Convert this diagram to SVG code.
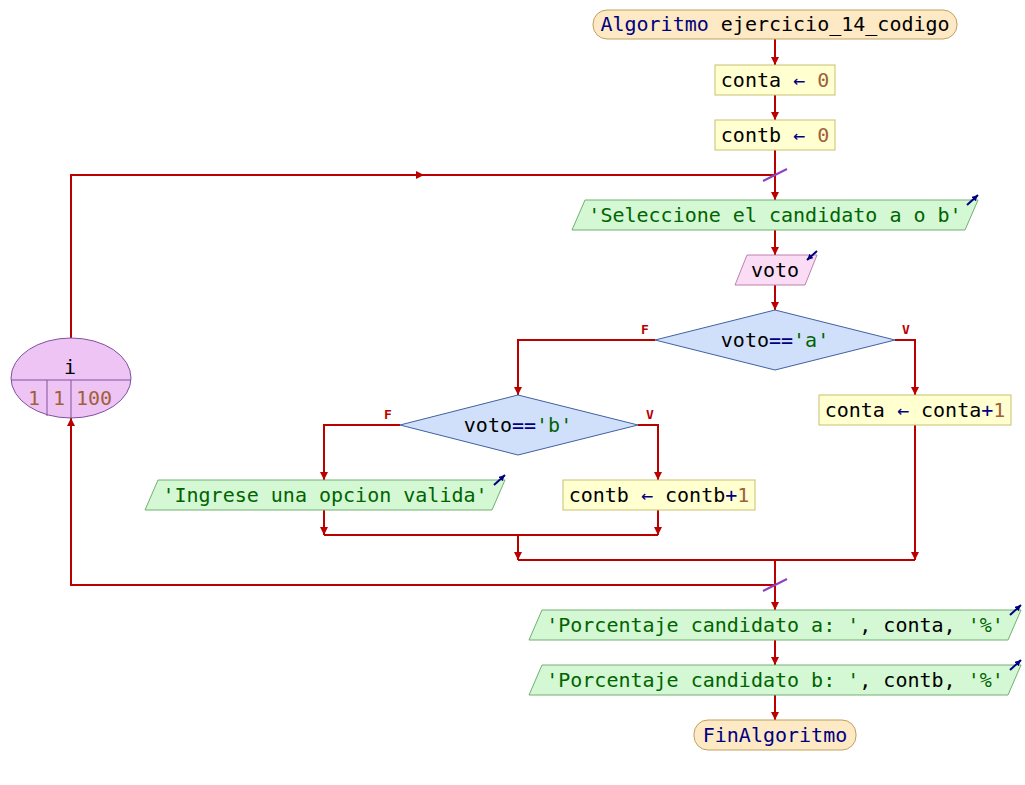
<svg xmlns="http://www.w3.org/2000/svg" width="1025" height="785" viewBox="0 0 1025 785">
<defs>
<marker id="ah" markerWidth="10" markerHeight="10" refX="8" refY="4" orient="auto" markerUnits="userSpaceOnUse"><path d="M0,0 L8,4 L0,8 z" fill="#bb0000"/></marker>
<marker id="io" markerWidth="8" markerHeight="8" refX="6" refY="3" orient="auto" markerUnits="userSpaceOnUse"><path d="M0,0 L6,3 L0,6 z" fill="#000080"/></marker>
</defs>
<style>
text{font-family:"DejaVu Sans Mono","Liberation Mono",monospace;font-size:20px;text-anchor:middle;fill:#000}
.k{fill:#000080}.n{fill:#a0603a}.s{fill:#006400}
.lbl{font-family:"DejaVu Sans Mono",monospace;font-size:13px;font-weight:bold;fill:#bb0000}
.term{fill:#fde9c4;stroke:#c0a060;stroke-width:1}
.proc{fill:#ffffd0;stroke:#c8c070;stroke-width:1}
.out{fill:#d4f7d4;stroke:#70b070;stroke-width:1}
.inp{fill:#fadcf4;stroke:#c080b0;stroke-width:1}
.dec{fill:#d0e0fa;stroke:#4060a0;stroke-width:1}
.loop{fill:#eec4f4;stroke:#8050a0;stroke-width:1}
.c{fill:none;stroke:#bb0000;stroke-width:2}
.sl{stroke:#9040c0;stroke-width:2}
.ic{stroke:#000080;stroke-width:2;fill:none}
</style>
<g id="connectors">
<path class="c" d="M775,39 V65" marker-end="url(#ah)"/>
<path class="c" d="M775,95 V120" marker-end="url(#ah)"/>
<path class="c" d="M775,150 V200" marker-end="url(#ah)"/>
<path class="c" d="M775,230 V255" marker-end="url(#ah)"/>
<path class="c" d="M775,285 V310" marker-end="url(#ah)"/>
<path class="c" d="M655,340 H518 V395" marker-end="url(#ah)"/>
<path class="c" d="M895,340 H915 V395" marker-end="url(#ah)"/>
<path class="c" d="M400,425 H324 V480" marker-end="url(#ah)"/>
<path class="c" d="M638,425 H658 V480" marker-end="url(#ah)"/>
<path class="c" d="M324,510 V535" marker-end="url(#ah)"/>
<path class="c" d="M658,510 V535" marker-end="url(#ah)"/>
<path class="c" d="M324,535 H658"/>
<path class="c" d="M518,535 V560" marker-end="url(#ah)"/>
<path class="c" d="M915,425 V560" marker-end="url(#ah)"/>
<path class="c" d="M518,560 H915"/>
<path class="c" d="M775,560 V610" marker-end="url(#ah)"/>
<path class="c" d="M775,585 H71 V418" marker-end="url(#ah)"/>
<path class="c" d="M71,338 V175 H424" marker-end="url(#ah)"/>
<path class="c" d="M420,175 H775"/>
<path class="c" d="M775,640 V665" marker-end="url(#ah)"/>
<path class="c" d="M775,695 V720" marker-end="url(#ah)"/>
<line class="sl" x1="763" y1="181" x2="787" y2="169"/>
<line class="sl" x1="763" y1="591" x2="787" y2="579"/>
</g>
<g id="start">
<rect class="term" x="593" y="10" width="364" height="29" rx="14"/>
<text x="775" y="31"><tspan class="k">Algoritmo</tspan> ejercicio_14_codigo</text>
</g>
<g id="conta0">
<rect class="proc" x="715" y="65" width="120" height="30"/>
<text x="775" y="87">conta <tspan class="k">←</tspan> <tspan class="n">0</tspan></text>
</g>
<g id="contb0">
<rect class="proc" x="715" y="120" width="120" height="30"/>
<text x="775" y="142">contb <tspan class="k">←</tspan> <tspan class="n">0</tspan></text>
</g>
<g id="loop">
<ellipse class="loop" cx="71" cy="378" rx="60" ry="40"/>
<line x1="11" y1="380" x2="131" y2="380" stroke="#8050a0" stroke-width="1"/>
<line x1="47" y1="380" x2="47" y2="416" stroke="#8050a0" stroke-width="1"/>
<line x1="71" y1="380" x2="71" y2="418" stroke="#8050a0" stroke-width="1"/>
<text x="70" y="374">i</text>
<text class="n" x="34" y="405">1</text>
<text class="n" x="59" y="405">1</text>
<text class="n" x="94" y="405">100</text>
</g>
<g id="seleccione">
<polygon class="out" points="585,200 978,200 965,230 572,230"/>
<text class="s" x="775" y="222">'Seleccione el candidato a o b'</text>
<line class="ic" x1="967" y1="205" x2="978" y2="195" marker-end="url(#io)"/>
</g>
<g id="leer">
<polygon class="inp" points="747,255 817,255 805,285 735,285"/>
<text x="775" y="277">voto</text>
<line class="ic" x1="817" y1="251" x2="807" y2="260" marker-end="url(#io)"/>
</g>
<g id="deca">
<polygon class="dec" points="775,310 895,340 775,370 655,340"/>
<text x="775" y="347">voto<tspan class="k">==</tspan><tspan class="s">'a'</tspan></text>
<text class="lbl" x="645" y="334">F</text>
<text class="lbl" x="906" y="334">V</text>
</g>
<g id="containc">
<rect class="proc" x="819" y="395" width="192" height="30"/>
<text x="915" y="417">conta <tspan class="k">←</tspan> conta<tspan class="k">+</tspan><tspan class="n">1</tspan></text>
</g>
<g id="decb">
<polygon class="dec" points="518,395 638,425 518,455 400,425"/>
<text x="518" y="432">voto<tspan class="k">==</tspan><tspan class="s">'b'</tspan></text>
<text class="lbl" x="388" y="419">F</text>
<text class="lbl" x="650" y="419">V</text>
</g>
<g id="ingrese">
<polygon class="out" points="158,480 505,480 492,510 145,510"/>
<text class="s" x="325" y="502">'Ingrese una opcion valida'</text>
<line class="ic" x1="494" y1="485" x2="505" y2="475" marker-end="url(#io)"/>
</g>
<g id="contbinc">
<rect class="proc" x="563" y="480" width="192" height="30"/>
<text x="659" y="502">contb <tspan class="k">←</tspan> contb<tspan class="k">+</tspan><tspan class="n">1</tspan></text>
</g>
<g id="outa">
<polygon class="out" points="542,610 1021,610 1008,640 529,640"/>
<text x="775" y="632"><tspan class="s">'Porcentaje candidato a: '</tspan>, conta, <tspan class="s">'%'</tspan></text>
<line class="ic" x1="1010" y1="615" x2="1021" y2="605" marker-end="url(#io)"/>
</g>
<g id="outb">
<polygon class="out" points="542,665 1021,665 1008,695 529,695"/>
<text x="775" y="687"><tspan class="s">'Porcentaje candidato b: '</tspan>, contb, <tspan class="s">'%'</tspan></text>
<line class="ic" x1="1010" y1="670" x2="1021" y2="660" marker-end="url(#io)"/>
</g>
<g id="end">
<rect class="term" x="694" y="720" width="162" height="30" rx="14"/>
<text class="k" x="775" y="742">FinAlgoritmo</text>
</g>
</svg>
